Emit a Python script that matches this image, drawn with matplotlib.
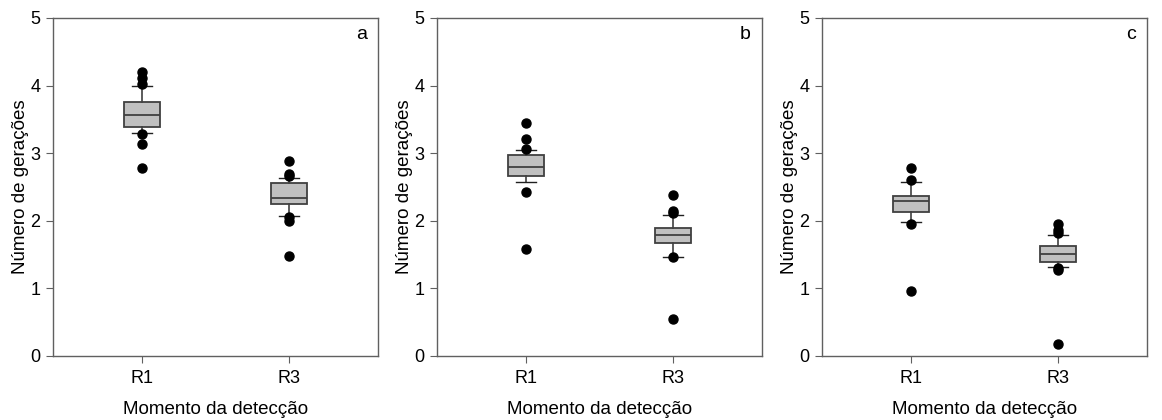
import matplotlib
matplotlib.use("Agg")
import matplotlib.pyplot as plt

plt.rcParams['font.family'] = ['Liberation Sans', 'DejaVu Sans']

categories = ["R1", "R3"]
panel_letters = ["a", "b", "c"]

# box statistics: q1, median, q3, lower whisker, upper whisker
q1 = [[3.39, 2.25], [2.66, 1.67], [2.13, 1.39]]
med = [[3.57, 2.34], [2.80, 1.79], [2.29, 1.51]]
q3 = [[3.75, 2.56], [2.97, 1.90], [2.37, 1.63]]
whislo = [[3.30, 2.07], [2.58, 1.46], [1.98, 1.32]]
whishi = [[4.00, 2.63], [3.05, 2.09], [2.57, 1.79]]
fliers = [
    [[4.20, 4.11, 4.03, 3.28, 3.13, 2.78], [2.89, 2.69, 2.66, 2.05, 1.99, 1.48]],
    [[3.45, 3.21, 3.06, 2.43, 1.58], [2.38, 2.14, 2.11, 1.46, 0.55]],
    [[2.78, 2.60, 1.96, 0.96], [1.95, 1.86, 1.82, 1.30, 1.27, 0.18]],
]

fig = plt.figure(figsize=(11.62, 4.2), dpi=100)
lefts = [53 / 1162, 437 / 1162, 822 / 1162]
frame = '#606060'

for p in range(3):
    ax = fig.add_axes([lefts[p], 64 / 420, 325 / 1162, 338 / 420])
    stats = []
    for i in range(2):
        stats.append(dict(med=med[p][i], q1=q1[p][i], q3=q3[p][i],
                          whislo=whislo[p][i], whishi=whishi[p][i],
                          fliers=fliers[p][i]))
    ax.bxp(stats, positions=[1, 2], widths=0.25, patch_artist=True,
           boxprops=dict(facecolor='#c0c0c0', edgecolor='#404040', linewidth=1.3),
           medianprops=dict(color='#404040', linewidth=1.3),
           whiskerprops=dict(color='#404040', linewidth=1.2),
           capprops=dict(color='#202020', linewidth=1.0),
           capwidths=0.13,
           flierprops=dict(marker='o', markerfacecolor='black', markeredgecolor='black',
                           markersize=6.5))
    ax.set_xlim(0.395, 2.605)
    ax.set_ylim(0, 5)
    ax.set_yticks([0, 1, 2, 3, 4, 5])
    ax.set_xticks([1, 2])
    ax.set_xticklabels(categories)
    ax.tick_params(labelsize=13, direction='out', length=5, color=frame, pad=5)
    ax.tick_params(axis='y', pad=4)
    for s in ax.spines.values():
        s.set_color(frame)
        s.set_linewidth(1.0)
    ax.set_ylabel("Número de gerações", fontsize=13.5, labelpad=1)
    ax.set_xlabel("Momento da detecção", fontsize=13.5, labelpad=10)
    ax.text(0.965, 0.975, panel_letters[p], transform=ax.transAxes,
            ha='right', va='top', fontsize=14)

fig.savefig("out.png", dpi=100)
